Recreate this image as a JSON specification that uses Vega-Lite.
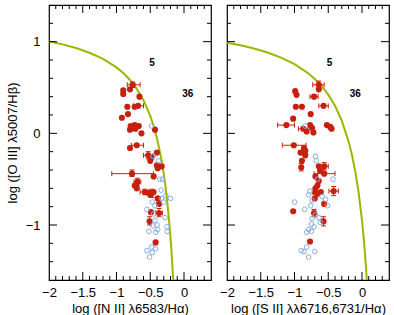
{
  "$schema": "https://vega.github.io/schema/vega-lite/v6.json",
  "padding": {"left": 5, "top": 2, "right": 0, "bottom": 0},
  "spacing": 16,
  "bounds": "flush",
  "config": {
    "font": "Liberation Sans",
    "view": {"stroke": "#000", "strokeWidth": 1.2},
    "axis": {"grid": false, "domain": false, "labelFlush": false, "tickColor": "#000", "tickWidth": 1, "labelColor": "#000", "labelFont": "Liberation Sans", "labelFontSize": 13, "titleFont": "Liberation Sans", "titleFontSize": 13, "titleFontWeight": "normal", "titleColor": "#000"}
  },
  "datasets": {
    "xt": [
      {"v": -1.9, "m": "minor"}, {"v": -1.8, "m": "minor"}, {"v": -1.7, "m": "minor"}, {"v": -1.6, "m": "minor"}, {"v": -1.5, "m": "major"}, {"v": -1.4, "m": "minor"}, {"v": -1.3, "m": "minor"}, {"v": -1.2, "m": "minor"}, {"v": -1.1, "m": "minor"}, {"v": -1.0, "m": "major"}, {"v": -0.9, "m": "minor"}, {"v": -0.8, "m": "minor"}, {"v": -0.7, "m": "minor"}, {"v": -0.6, "m": "minor"}, {"v": -0.5, "m": "major"}, {"v": -0.4, "m": "minor"}, {"v": -0.3, "m": "minor"}, {"v": -0.2, "m": "minor"}, {"v": -0.1, "m": "minor"}, {"v": 0.0, "m": "major"}, {"v": 0.1, "m": "minor"}, {"v": 0.2, "m": "minor"}, {"v": 0.3, "m": "minor"}
    ],
    "yt": [
      {"v": -1.4, "m": "minor"}, {"v": -1.2, "m": "minor"}, {"v": -1.0, "m": "major"}, {"v": -0.8, "m": "minor"}, {"v": -0.6, "m": "minor"}, {"v": -0.4, "m": "minor"}, {"v": -0.2, "m": "minor"}, {"v": 0.0, "m": "major"}, {"v": 0.2, "m": "minor"}, {"v": 0.4, "m": "minor"}, {"v": 0.6, "m": "minor"}, {"v": 0.8, "m": "minor"}, {"v": 1.0, "m": "major"}, {"v": 1.2, "m": "minor"}
    ],
    "curve": [
      {"p": "N", "x": -2.0, "y": 1.0024}, {"p": "N", "x": -1.8, "y": 0.9703}, {"p": "N", "x": -1.6, "y": 0.9303}, {"p": "N", "x": -1.4, "y": 0.8793}, {"p": "N", "x": -1.2, "y": 0.812}, {"p": "N", "x": -1.0, "y": 0.719}, {"p": "N", "x": -0.9, "y": 0.6579}, {"p": "N", "x": -0.8, "y": 0.5824}, {"p": "N", "x": -0.7, "y": 0.4867}, {"p": "N", "x": -0.6, "y": 0.3615}, {"p": "N", "x": -0.5, "y": 0.1909}, {"p": "N", "x": -0.45, "y": 0.08}, {"p": "N", "x": -0.4, "y": -0.0556}, {"p": "N", "x": -0.35, "y": -0.225}, {"p": "N", "x": -0.325, "y": -0.3267}, {"p": "N", "x": -0.3, "y": -0.4429}, {"p": "N", "x": -0.275, "y": -0.5769}, {"p": "N", "x": -0.25, "y": -0.7333}, {"p": "N", "x": -0.22, "y": -0.9593}, {"p": "N", "x": -0.2, "y": -1.14}, {"p": "N", "x": -0.19, "y": -1.2417}, {"p": "N", "x": -0.18, "y": -1.3522}, {"p": "N", "x": -0.17, "y": -1.4727}, {"p": "N", "x": -0.1603, "y": -1.6},
      {"p": "S", "x": -2.0, "y": 0.9897}, {"p": "S", "x": -1.8, "y": 0.9604}, {"p": "S", "x": -1.6, "y": 0.925}, {"p": "S", "x": -1.4, "y": 0.8814}, {"p": "S", "x": -1.2, "y": 0.8263}, {"p": "S", "x": -1.0, "y": 0.7545}, {"p": "S", "x": -0.8, "y": 0.6571}, {"p": "S", "x": -0.7, "y": 0.5941}, {"p": "S", "x": -0.6, "y": 0.5174}, {"p": "S", "x": -0.5, "y": 0.422}, {"p": "S", "x": -0.4, "y": 0.3}, {"p": "S", "x": -0.3, "y": 0.1387}, {"p": "S", "x": -0.2, "y": -0.0846}, {"p": "S", "x": -0.15, "y": -0.2319}, {"p": "S", "x": -0.1, "y": -0.4143}, {"p": "S", "x": -0.05, "y": -0.6459}, {"p": "S", "x": 0.0, "y": -0.95}, {"p": "S", "x": 0.02, "y": -1.1}, {"p": "S", "x": 0.04, "y": -1.2714}, {"p": "S", "x": 0.06, "y": -1.4692}, {"p": "S", "x": 0.0717, "y": -1.6}
    ],
    "notes": [
      {"p": "N", "x": -0.475, "y": 0.77, "t": "5"}, {"p": "N", "x": 0.055, "y": 0.43, "t": "36"},
      {"p": "S", "x": -0.48, "y": 0.77, "t": "5"}, {"p": "S", "x": -0.1, "y": 0.43, "t": "36"}
    ],
    "pts": [
      {"p": "N", "t": "r", "x": -0.76, "y": 0.53, "xlo": -0.84, "xhi": -0.65, "ylo": 0.5, "yhi": 0.56},
      {"p": "N", "t": "r", "x": -0.9, "y": 0.47},
      {"p": "N", "t": "r", "x": -0.9, "y": 0.43},
      {"p": "N", "t": "r", "x": -0.8, "y": 0.48},
      {"p": "N", "t": "r", "x": -0.66, "y": 0.4},
      {"p": "N", "t": "r", "x": -0.84, "y": 0.29},
      {"p": "N", "t": "r", "x": -0.68, "y": 0.3, "xlo": -0.75, "xhi": -0.6},
      {"p": "N", "t": "r", "x": -0.73, "y": 0.29},
      {"p": "N", "t": "r", "x": -0.83, "y": 0.21},
      {"p": "N", "t": "r", "x": -0.92, "y": 0.17},
      {"p": "N", "t": "r", "x": -0.79, "y": 0.08},
      {"p": "N", "t": "r", "x": -0.73, "y": 0.09},
      {"p": "N", "t": "r", "x": -0.67, "y": 0.08},
      {"p": "N", "t": "r", "x": -0.8, "y": 0.04},
      {"p": "N", "t": "r", "x": -0.72, "y": 0.05},
      {"p": "N", "t": "r", "x": -0.76, "y": 0.06},
      {"p": "N", "t": "r", "x": -0.63, "y": 0.0},
      {"p": "N", "t": "r", "x": -0.43, "y": 0.04},
      {"p": "N", "t": "r", "x": -0.7, "y": -0.13, "xlo": -0.78, "xhi": -0.6},
      {"p": "N", "t": "r", "x": -0.8, "y": -0.16},
      {"p": "N", "t": "r", "x": -0.53, "y": -0.24, "xlo": -0.6, "xhi": -0.46, "ylo": -0.28, "yhi": -0.2},
      {"p": "N", "t": "r", "x": -0.4, "y": -0.21},
      {"p": "N", "t": "r", "x": -0.48, "y": -0.26},
      {"p": "N", "t": "r", "x": -0.5, "y": -0.3},
      {"p": "N", "t": "r", "x": -0.4, "y": -0.35},
      {"p": "N", "t": "r", "x": -0.33, "y": -0.36},
      {"p": "N", "t": "r", "x": -0.39, "y": -0.38},
      {"p": "N", "t": "r", "x": -0.77, "y": -0.44, "xlo": -1.07, "xhi": -0.45, "ylo": -0.47, "yhi": -0.4},
      {"p": "N", "t": "r", "x": -0.45, "y": -0.47},
      {"p": "N", "t": "r", "x": -0.69, "y": -0.53, "xlo": -0.74, "xhi": -0.64, "ylo": -0.57, "yhi": -0.49},
      {"p": "N", "t": "r", "x": -0.73, "y": -0.57},
      {"p": "N", "t": "r", "x": -0.7, "y": -0.6},
      {"p": "N", "t": "r", "x": -0.58, "y": -0.64, "xlo": -0.65, "xhi": -0.52, "ylo": -0.67, "yhi": -0.61},
      {"p": "N", "t": "r", "x": -0.52, "y": -0.65},
      {"p": "N", "t": "r", "x": -0.48, "y": -0.66, "ylo": -0.7, "yhi": -0.61},
      {"p": "N", "t": "r", "x": -0.45, "y": -0.64},
      {"p": "N", "t": "r", "x": -0.5, "y": -0.67},
      {"p": "N", "t": "r", "x": -0.39, "y": -0.71},
      {"p": "N", "t": "r", "x": -0.37, "y": -0.77},
      {"p": "N", "t": "r", "x": -0.49, "y": -0.86},
      {"p": "N", "t": "r", "x": -0.37, "y": -0.87, "xlo": -0.42, "xhi": -0.32, "ylo": -0.91, "yhi": -0.82},
      {"p": "N", "t": "r", "x": -0.51, "y": -0.96, "ylo": -1.0, "yhi": -0.91},
      {"p": "N", "t": "r", "x": -0.42, "y": -1.19},
      {"p": "N", "t": "b", "x": -0.48, "y": 0.08},
      {"p": "N", "t": "b", "x": -0.46, "y": -0.25},
      {"p": "N", "t": "b", "x": -0.38, "y": -0.3},
      {"p": "N", "t": "b", "x": -0.36, "y": -0.5},
      {"p": "N", "t": "b", "x": -0.32, "y": -0.5},
      {"p": "N", "t": "b", "x": -0.34, "y": -0.62},
      {"p": "N", "t": "b", "x": -0.27, "y": -0.68},
      {"p": "N", "t": "b", "x": -0.2, "y": -0.71},
      {"p": "N", "t": "b", "x": -0.33, "y": -0.71},
      {"p": "N", "t": "b", "x": -0.3, "y": -0.75},
      {"p": "N", "t": "b", "x": -0.47, "y": -0.75},
      {"p": "N", "t": "b", "x": -0.43, "y": -0.79},
      {"p": "N", "t": "b", "x": -0.55, "y": -0.83},
      {"p": "N", "t": "b", "x": -0.45, "y": -0.88},
      {"p": "N", "t": "b", "x": -0.28, "y": -0.92},
      {"p": "N", "t": "b", "x": -0.43, "y": -0.95},
      {"p": "N", "t": "b", "x": -0.4, "y": -1.0},
      {"p": "N", "t": "b", "x": -0.46, "y": -1.01},
      {"p": "N", "t": "b", "x": -0.39, "y": -1.05},
      {"p": "N", "t": "b", "x": -0.42, "y": -1.08},
      {"p": "N", "t": "b", "x": -0.25, "y": -1.02},
      {"p": "N", "t": "b", "x": -0.25, "y": -1.07},
      {"p": "N", "t": "b", "x": -0.52, "y": -1.07},
      {"p": "N", "t": "b", "x": -0.55, "y": -1.28},
      {"p": "N", "t": "b", "x": -0.48, "y": -1.24},
      {"p": "N", "t": "b", "x": -0.42, "y": -1.26},
      {"p": "N", "t": "b", "x": -0.47, "y": -1.3},
      {"p": "N", "t": "b", "x": -0.51, "y": -1.35},
      {"p": "S", "t": "r", "x": -0.64, "y": 0.53, "xlo": -0.73, "xhi": -0.56, "ylo": 0.49, "yhi": 0.57},
      {"p": "S", "t": "r", "x": -0.64, "y": 0.48},
      {"p": "S", "t": "r", "x": -0.99, "y": 0.46},
      {"p": "S", "t": "r", "x": -0.97, "y": 0.42},
      {"p": "S", "t": "r", "x": -0.71, "y": 0.4, "xlo": -0.77, "xhi": -0.65},
      {"p": "S", "t": "r", "x": -0.57, "y": 0.3, "xlo": -0.64, "xhi": -0.5},
      {"p": "S", "t": "r", "x": -0.98, "y": 0.29},
      {"p": "S", "t": "r", "x": -0.89, "y": 0.29},
      {"p": "S", "t": "r", "x": -0.76, "y": 0.21},
      {"p": "S", "t": "r", "x": -1.02, "y": 0.16},
      {"p": "S", "t": "r", "x": -1.12, "y": 0.09, "xlo": -1.25, "xhi": -1.0},
      {"p": "S", "t": "r", "x": -0.77, "y": 0.09},
      {"p": "S", "t": "r", "x": -0.74, "y": 0.06},
      {"p": "S", "t": "r", "x": -0.72, "y": 0.01},
      {"p": "S", "t": "r", "x": -0.87, "y": 0.05, "xlo": -0.94, "xhi": -0.8},
      {"p": "S", "t": "r", "x": -0.82, "y": 0.02},
      {"p": "S", "t": "r", "x": -0.52, "y": 0.09},
      {"p": "S", "t": "r", "x": -0.47, "y": 0.07},
      {"p": "S", "t": "r", "x": -0.45, "y": 0.05},
      {"p": "S", "t": "r", "x": -1.01, "y": -0.13, "xlo": -1.18, "xhi": -0.83},
      {"p": "S", "t": "r", "x": -0.86, "y": -0.16},
      {"p": "S", "t": "r", "x": -0.84, "y": -0.19},
      {"p": "S", "t": "r", "x": -0.91, "y": -0.21},
      {"p": "S", "t": "r", "x": -0.84, "y": -0.24},
      {"p": "S", "t": "r", "x": -0.89, "y": -0.3},
      {"p": "S", "t": "r", "x": -0.9, "y": -0.37, "ylo": -0.41, "yhi": -0.33},
      {"p": "S", "t": "r", "x": -0.64, "y": -0.36},
      {"p": "S", "t": "r", "x": -0.56, "y": -0.36, "xlo": -0.62, "xhi": -0.5, "ylo": -0.4, "yhi": -0.32},
      {"p": "S", "t": "r", "x": -0.62, "y": -0.41},
      {"p": "S", "t": "r", "x": -0.56, "y": -0.44, "xlo": -0.71, "xhi": -0.4},
      {"p": "S", "t": "r", "x": -0.69, "y": -0.47},
      {"p": "S", "t": "r", "x": -0.64, "y": -0.52},
      {"p": "S", "t": "r", "x": -0.66, "y": -0.57},
      {"p": "S", "t": "r", "x": -0.69, "y": -0.6},
      {"p": "S", "t": "r", "x": -0.7, "y": -0.64},
      {"p": "S", "t": "r", "x": -0.66, "y": -0.66},
      {"p": "S", "t": "r", "x": -0.61, "y": -0.64},
      {"p": "S", "t": "r", "x": -0.42, "y": -0.63, "xlo": -0.49, "xhi": -0.35, "ylo": -0.68, "yhi": -0.58},
      {"p": "S", "t": "r", "x": -0.7, "y": -0.71},
      {"p": "S", "t": "r", "x": -0.56, "y": -0.77},
      {"p": "S", "t": "r", "x": -1.02, "y": -0.85},
      {"p": "S", "t": "r", "x": -0.71, "y": -0.87, "ylo": -0.91, "yhi": -0.83},
      {"p": "S", "t": "r", "x": -0.57, "y": -0.96, "ylo": -1.01, "yhi": -0.91},
      {"p": "S", "t": "r", "x": -0.77, "y": -1.18},
      {"p": "S", "t": "b", "x": -0.84, "y": 0.08},
      {"p": "S", "t": "b", "x": -0.69, "y": -0.25},
      {"p": "S", "t": "b", "x": -0.68, "y": -0.3},
      {"p": "S", "t": "b", "x": -0.66, "y": -0.5},
      {"p": "S", "t": "b", "x": -0.43, "y": -0.5},
      {"p": "S", "t": "b", "x": -0.77, "y": -0.63},
      {"p": "S", "t": "b", "x": -0.79, "y": -0.67},
      {"p": "S", "t": "b", "x": -0.59, "y": -0.69},
      {"p": "S", "t": "b", "x": -0.54, "y": -0.72},
      {"p": "S", "t": "b", "x": -0.74, "y": -0.73},
      {"p": "S", "t": "b", "x": -0.76, "y": -0.79},
      {"p": "S", "t": "b", "x": -0.51, "y": -0.79},
      {"p": "S", "t": "b", "x": -1.0, "y": -0.75},
      {"p": "S", "t": "b", "x": -0.85, "y": -0.83},
      {"p": "S", "t": "b", "x": -0.69, "y": -0.89},
      {"p": "S", "t": "b", "x": -0.74, "y": -0.93},
      {"p": "S", "t": "b", "x": -0.64, "y": -0.92},
      {"p": "S", "t": "b", "x": -0.62, "y": -0.97},
      {"p": "S", "t": "b", "x": -0.75, "y": -0.99},
      {"p": "S", "t": "b", "x": -0.71, "y": -1.02},
      {"p": "S", "t": "b", "x": -0.79, "y": -1.05},
      {"p": "S", "t": "b", "x": -0.82, "y": -1.08},
      {"p": "S", "t": "b", "x": -0.75, "y": -1.07},
      {"p": "S", "t": "b", "x": -0.9, "y": -1.28},
      {"p": "S", "t": "b", "x": -0.86, "y": -1.29},
      {"p": "S", "t": "b", "x": -0.82, "y": -1.24},
      {"p": "S", "t": "b", "x": -0.7, "y": -1.29},
      {"p": "S", "t": "b", "x": -0.79, "y": -1.35}
    ]
  },
  "hconcat": [
    {
      "width": 162, "height": 275,
      "resolve": {"axis": {"x": "independent", "y": "independent"}},
      "layer": [
        {
          "data": {"name": "curve"},
          "transform": [{"filter": "datum.p === 'N'"}],
          "mark": {"type": "line", "color": "#9ab800", "strokeWidth": 2, "clip": true},
          "encoding": {
            "x": {"field": "x", "type": "quantitative", "scale": {"domain": [-2, 0.4], "nice": false, "zero": false},
                  "axis": {"orient": "bottom", "values": [-2, -1.5, -1, -0.5, 0], "format": "~g", "ticks": false, "labelPadding": 6, "title": "log ([N II] λ6583/Hα)", "titlePadding": 3}},
            "y": {"field": "y", "type": "quantitative", "scale": {"domain": [-1.6, 1.4], "nice": false, "zero": false},
                  "axis": {"orient": "left", "values": [-1, 0, 1], "format": "~g", "ticks": false, "labelPadding": 9, "title": "log ([O III] λ5007/Hβ)", "titlePadding": 6}}
          }
        },
        {
          "data": {"name": "xt"},
          "mark": {"type": "point", "shape": "M0,0V1", "filled": false, "strokeWidth": 1, "color": "#000", "opacity": 1},
          "encoding": {
            "x": {"field": "v", "type": "quantitative", "scale": {"domain": [-2, 0.4], "nice": false, "zero": false}, "axis": null},
            "y": {"datum": 1.4, "type": "quantitative", "scale": {"domain": [-1.6, 1.4], "nice": false, "zero": false}, "axis": null},
            "size": {"field": "m", "type": "nominal", "scale": {"domain": ["major", "minor"], "range": [256, 64]}, "legend": null}
          }
        },
        {
          "data": {"name": "xt"},
          "mark": {"type": "point", "shape": "M0,0V-1", "filled": false, "strokeWidth": 1, "color": "#000", "opacity": 1},
          "encoding": {
            "x": {"field": "v", "type": "quantitative", "scale": {"domain": [-2, 0.4], "nice": false, "zero": false}, "axis": null},
            "y": {"datum": -1.6, "type": "quantitative", "scale": {"domain": [-1.6, 1.4], "nice": false, "zero": false}, "axis": null},
            "size": {"field": "m", "type": "nominal", "scale": {"domain": ["major", "minor"], "range": [256, 64]}, "legend": null}
          }
        },
        {
          "data": {"name": "yt"},
          "mark": {"type": "point", "shape": "M0,0H1", "filled": false, "strokeWidth": 1, "color": "#000", "opacity": 1},
          "encoding": {
            "y": {"field": "v", "type": "quantitative", "scale": {"domain": [-1.6, 1.4], "nice": false, "zero": false}, "axis": null},
            "x": {"datum": -2, "type": "quantitative", "scale": {"domain": [-2, 0.4], "nice": false, "zero": false}, "axis": null},
            "size": {"field": "m", "type": "nominal", "scale": {"domain": ["major", "minor"], "range": [256, 64]}, "legend": null}
          }
        },
        {
          "data": {"name": "yt"},
          "mark": {"type": "point", "shape": "M0,0H-1", "filled": false, "strokeWidth": 1, "color": "#000", "opacity": 1},
          "encoding": {
            "y": {"field": "v", "type": "quantitative", "scale": {"domain": [-1.6, 1.4], "nice": false, "zero": false}, "axis": null},
            "x": {"datum": 0.4, "type": "quantitative", "scale": {"domain": [-2, 0.4], "nice": false, "zero": false}, "axis": null},
            "size": {"field": "m", "type": "nominal", "scale": {"domain": ["major", "minor"], "range": [256, 64]}, "legend": null}
          }
        },
        {
          "data": {"name": "pts"},
          "transform": [{"filter": "datum.p === 'N' && isValid(datum.xlo)"}],
          "mark": {"type": "rule", "color": "#c8200e", "strokeWidth": 1},
          "encoding": {
            "x": {"field": "xlo", "type": "quantitative", "scale": {"domain": [-2, 0.4], "nice": false, "zero": false}, "axis": null},
            "x2": {"field": "xhi"},
            "y": {"field": "y", "type": "quantitative", "scale": {"domain": [-1.6, 1.4], "nice": false, "zero": false}, "axis": null}
          }
        },
        {
          "data": {"name": "pts"},
          "transform": [{"filter": "datum.p === 'N' && isValid(datum.ylo)"}],
          "mark": {"type": "rule", "color": "#c8200e", "strokeWidth": 1},
          "encoding": {
            "y": {"field": "ylo", "type": "quantitative", "scale": {"domain": [-1.6, 1.4], "nice": false, "zero": false}, "axis": null},
            "y2": {"field": "yhi"},
            "x": {"field": "x", "type": "quantitative", "scale": {"domain": [-2, 0.4], "nice": false, "zero": false}, "axis": null}
          }
        },
        {
          "data": {"name": "pts"},
          "transform": [{"filter": "datum.p === 'N'"}, {"fold": ["xlo", "xhi"], "as": ["k", "v"]}, {"filter": "isValid(datum.v)"}],
          "mark": {"type": "point", "shape": "M0,-1V1", "filled": false, "size": 25, "strokeWidth": 1, "color": "#c8200e", "opacity": 1},
          "encoding": {
            "x": {"field": "v", "type": "quantitative", "scale": {"domain": [-2, 0.4], "nice": false, "zero": false}, "axis": null},
            "y": {"field": "y", "type": "quantitative", "scale": {"domain": [-1.6, 1.4], "nice": false, "zero": false}, "axis": null}
          }
        },
        {
          "data": {"name": "pts"},
          "transform": [{"filter": "datum.p === 'N'"}, {"fold": ["ylo", "yhi"], "as": ["k", "v"]}, {"filter": "isValid(datum.v)"}],
          "mark": {"type": "point", "shape": "M-1,0H1", "filled": false, "size": 25, "strokeWidth": 1, "color": "#c8200e", "opacity": 1},
          "encoding": {
            "y": {"field": "v", "type": "quantitative", "scale": {"domain": [-1.6, 1.4], "nice": false, "zero": false}, "axis": null},
            "x": {"field": "x", "type": "quantitative", "scale": {"domain": [-2, 0.4], "nice": false, "zero": false}, "axis": null}
          }
        },
        {
          "data": {"name": "pts"},
          "transform": [{"filter": "datum.p === 'N' && datum.t === 'r'"}],
          "mark": {"type": "circle", "size": 38, "color": "#c8200e", "opacity": 1},
          "encoding": {
            "x": {"field": "x", "type": "quantitative", "scale": {"domain": [-2, 0.4], "nice": false, "zero": false}, "axis": null},
            "y": {"field": "y", "type": "quantitative", "scale": {"domain": [-1.6, 1.4], "nice": false, "zero": false}, "axis": null}
          }
        },
        {
          "data": {"name": "pts"},
          "transform": [{"filter": "datum.p === 'N' && datum.t === 'b'"}],
          "mark": {"type": "point", "shape": "circle", "filled": false, "size": 22, "strokeWidth": 1, "color": "#8aaee0", "opacity": 1},
          "encoding": {
            "x": {"field": "x", "type": "quantitative", "scale": {"domain": [-2, 0.4], "nice": false, "zero": false}, "axis": null},
            "y": {"field": "y", "type": "quantitative", "scale": {"domain": [-1.6, 1.4], "nice": false, "zero": false}, "axis": null}
          }
        },
        {
          "data": {"name": "notes"},
          "transform": [{"filter": "datum.p === 'N'"}],
          "mark": {"type": "text", "fontSize": 10, "fontWeight": "bold", "color": "#000"},
          "encoding": {
            "x": {"field": "x", "type": "quantitative", "scale": {"domain": [-2, 0.4], "nice": false, "zero": false}, "axis": null},
            "y": {"field": "y", "type": "quantitative", "scale": {"domain": [-1.6, 1.4], "nice": false, "zero": false}, "axis": null},
            "text": {"field": "t"}
          }
        }
      ]
    },
    {
      "width": 162, "height": 275,
      "resolve": {"axis": {"x": "independent", "y": "independent"}},
      "layer": [
        {
          "data": {"name": "curve"},
          "transform": [{"filter": "datum.p === 'S'"}],
          "mark": {"type": "line", "color": "#9ab800", "strokeWidth": 2, "clip": true},
          "encoding": {
            "x": {"field": "x", "type": "quantitative", "scale": {"domain": [-2, 0.4], "nice": false, "zero": false},
                  "axis": {"orient": "bottom", "values": [-2, -1.5, -1, -0.5, 0], "format": "~g", "ticks": false, "labelPadding": 6, "title": "log ([S II] λλ6716,6731/Hα)", "titlePadding": 3}},
            "y": {"field": "y", "type": "quantitative", "scale": {"domain": [-1.6, 1.4], "nice": false, "zero": false}, "axis": null}
          }
        },
        {
          "data": {"name": "xt"},
          "mark": {"type": "point", "shape": "M0,0V1", "filled": false, "strokeWidth": 1, "color": "#000", "opacity": 1},
          "encoding": {
            "x": {"field": "v", "type": "quantitative", "scale": {"domain": [-2, 0.4], "nice": false, "zero": false}, "axis": null},
            "y": {"datum": 1.4, "type": "quantitative", "scale": {"domain": [-1.6, 1.4], "nice": false, "zero": false}, "axis": null},
            "size": {"field": "m", "type": "nominal", "scale": {"domain": ["major", "minor"], "range": [256, 64]}, "legend": null}
          }
        },
        {
          "data": {"name": "xt"},
          "mark": {"type": "point", "shape": "M0,0V-1", "filled": false, "strokeWidth": 1, "color": "#000", "opacity": 1},
          "encoding": {
            "x": {"field": "v", "type": "quantitative", "scale": {"domain": [-2, 0.4], "nice": false, "zero": false}, "axis": null},
            "y": {"datum": -1.6, "type": "quantitative", "scale": {"domain": [-1.6, 1.4], "nice": false, "zero": false}, "axis": null},
            "size": {"field": "m", "type": "nominal", "scale": {"domain": ["major", "minor"], "range": [256, 64]}, "legend": null}
          }
        },
        {
          "data": {"name": "yt"},
          "mark": {"type": "point", "shape": "M0,0H1", "filled": false, "strokeWidth": 1, "color": "#000", "opacity": 1},
          "encoding": {
            "y": {"field": "v", "type": "quantitative", "scale": {"domain": [-1.6, 1.4], "nice": false, "zero": false}, "axis": null},
            "x": {"datum": -2, "type": "quantitative", "scale": {"domain": [-2, 0.4], "nice": false, "zero": false}, "axis": null},
            "size": {"field": "m", "type": "nominal", "scale": {"domain": ["major", "minor"], "range": [256, 64]}, "legend": null}
          }
        },
        {
          "data": {"name": "yt"},
          "mark": {"type": "point", "shape": "M0,0H-1", "filled": false, "strokeWidth": 1, "color": "#000", "opacity": 1},
          "encoding": {
            "y": {"field": "v", "type": "quantitative", "scale": {"domain": [-1.6, 1.4], "nice": false, "zero": false}, "axis": null},
            "x": {"datum": 0.4, "type": "quantitative", "scale": {"domain": [-2, 0.4], "nice": false, "zero": false}, "axis": null},
            "size": {"field": "m", "type": "nominal", "scale": {"domain": ["major", "minor"], "range": [256, 64]}, "legend": null}
          }
        },
        {
          "data": {"name": "pts"},
          "transform": [{"filter": "datum.p === 'S' && isValid(datum.xlo)"}],
          "mark": {"type": "rule", "color": "#c8200e", "strokeWidth": 1},
          "encoding": {
            "x": {"field": "xlo", "type": "quantitative", "scale": {"domain": [-2, 0.4], "nice": false, "zero": false}, "axis": null},
            "x2": {"field": "xhi"},
            "y": {"field": "y", "type": "quantitative", "scale": {"domain": [-1.6, 1.4], "nice": false, "zero": false}, "axis": null}
          }
        },
        {
          "data": {"name": "pts"},
          "transform": [{"filter": "datum.p === 'S' && isValid(datum.ylo)"}],
          "mark": {"type": "rule", "color": "#c8200e", "strokeWidth": 1},
          "encoding": {
            "y": {"field": "ylo", "type": "quantitative", "scale": {"domain": [-1.6, 1.4], "nice": false, "zero": false}, "axis": null},
            "y2": {"field": "yhi"},
            "x": {"field": "x", "type": "quantitative", "scale": {"domain": [-2, 0.4], "nice": false, "zero": false}, "axis": null}
          }
        },
        {
          "data": {"name": "pts"},
          "transform": [{"filter": "datum.p === 'S'"}, {"fold": ["xlo", "xhi"], "as": ["k", "v"]}, {"filter": "isValid(datum.v)"}],
          "mark": {"type": "point", "shape": "M0,-1V1", "filled": false, "size": 25, "strokeWidth": 1, "color": "#c8200e", "opacity": 1},
          "encoding": {
            "x": {"field": "v", "type": "quantitative", "scale": {"domain": [-2, 0.4], "nice": false, "zero": false}, "axis": null},
            "y": {"field": "y", "type": "quantitative", "scale": {"domain": [-1.6, 1.4], "nice": false, "zero": false}, "axis": null}
          }
        },
        {
          "data": {"name": "pts"},
          "transform": [{"filter": "datum.p === 'S'"}, {"fold": ["ylo", "yhi"], "as": ["k", "v"]}, {"filter": "isValid(datum.v)"}],
          "mark": {"type": "point", "shape": "M-1,0H1", "filled": false, "size": 25, "strokeWidth": 1, "color": "#c8200e", "opacity": 1},
          "encoding": {
            "y": {"field": "v", "type": "quantitative", "scale": {"domain": [-1.6, 1.4], "nice": false, "zero": false}, "axis": null},
            "x": {"field": "x", "type": "quantitative", "scale": {"domain": [-2, 0.4], "nice": false, "zero": false}, "axis": null}
          }
        },
        {
          "data": {"name": "pts"},
          "transform": [{"filter": "datum.p === 'S' && datum.t === 'r'"}],
          "mark": {"type": "circle", "size": 38, "color": "#c8200e", "opacity": 1},
          "encoding": {
            "x": {"field": "x", "type": "quantitative", "scale": {"domain": [-2, 0.4], "nice": false, "zero": false}, "axis": null},
            "y": {"field": "y", "type": "quantitative", "scale": {"domain": [-1.6, 1.4], "nice": false, "zero": false}, "axis": null}
          }
        },
        {
          "data": {"name": "pts"},
          "transform": [{"filter": "datum.p === 'S' && datum.t === 'b'"}],
          "mark": {"type": "point", "shape": "circle", "filled": false, "size": 22, "strokeWidth": 1, "color": "#8aaee0", "opacity": 1},
          "encoding": {
            "x": {"field": "x", "type": "quantitative", "scale": {"domain": [-2, 0.4], "nice": false, "zero": false}, "axis": null},
            "y": {"field": "y", "type": "quantitative", "scale": {"domain": [-1.6, 1.4], "nice": false, "zero": false}, "axis": null}
          }
        },
        {
          "data": {"name": "notes"},
          "transform": [{"filter": "datum.p === 'S'"}],
          "mark": {"type": "text", "fontSize": 10, "fontWeight": "bold", "color": "#000"},
          "encoding": {
            "x": {"field": "x", "type": "quantitative", "scale": {"domain": [-2, 0.4], "nice": false, "zero": false}, "axis": null},
            "y": {"field": "y", "type": "quantitative", "scale": {"domain": [-1.6, 1.4], "nice": false, "zero": false}, "axis": null},
            "text": {"field": "t"}
          }
        }
      ]
    }
  ]
}
